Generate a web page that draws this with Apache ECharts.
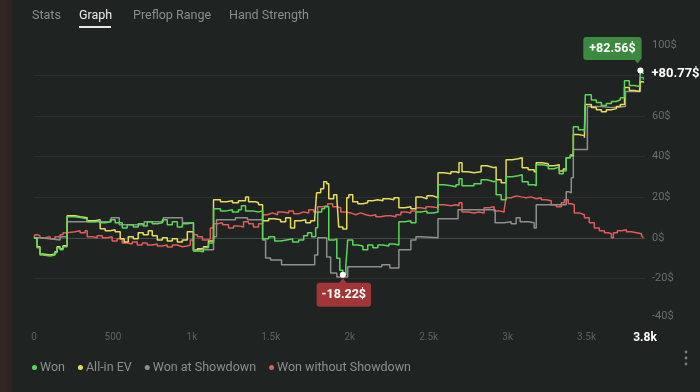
<!DOCTYPE html>
<html><head><meta charset="utf-8">
<script src="https://cdn.jsdelivr.net/npm/echarts@6/dist/echarts.min.js"></script>
<style>html,body{margin:0;padding:0;background:#1f2321;}#c{width:700px;height:392px;}</style>
</head><body><div id="c"></div>
<script>
const tabs = ['Stats', 'Graph', 'Preflop Range', 'Hand Strength'];
const seriesNames = ['Won', 'All-in EV', 'Won at Showdown', 'Won without Showdown'];
const xMax = 3870;
const yTicks = [-40, -20, 0, 20, 40, 60, 80, 100];

const wonPoints = [[0,0],[19,-4.9],[38,-8.4],[57,-8.9],[102,-8.4],[133,-7.4],[146,-4.9],[165,-5.9],[184,-4.4],[210,10.4],[260,10.0],[292,9.4],[337,7.9],[387,8.4],[419,7.4],[451,7.9],[483,8.9],[514,7.4],[559,4.9],[590,6.4],[629,5.4],[660,6.9],[692,5.9],[717,7.9],[749,6.9],[781,7.4],[813,8.9],[844,6.4],[876,7.9],[908,5.4],[940,6.9],[971,7.4],[1010,-6.4],[1035,-6.9],[1073,-4.9],[1105,-2.5],[1137,14.3],[1181,13.3],[1219,13.8],[1257,12.8],[1295,13.8],[1314,15.8],[1340,13.3],[1384,12.8],[1422,13.3],[1448,-0.5],[1486,0.5],[1524,-1.5],[1562,-1],[1600,-0.5],[1638,-2],[1676,-1],[1708,1],[1733,2.5],[1759,0.5],[1784,5],[1797,12.8],[1822,14.3],[1841,15.3],[1867,-1],[1905,-0.5],[1918,-10],[1937,-16],[1956,-18.22],[1975,-14],[1987,-1],[2019,-3.5],[2051,-4],[2083,-5.9],[2114,-3.5],[2146,-4.9],[2178,-3.5],[2210,-4],[2248,-3],[2280,-3.5],[2311,7.9],[2349,8.4],[2387,7.4],[2419,12.8],[2451,13.3],[2489,12.3],[2527,12.8],[2559,26.2],[2597,25.7],[2641,25.2],[2673,26.2],[2692,29.1],[2711,25.7],[2749,25.7],[2787,26.7],[2832,28.6],[2870,27.7],[2914,28.1],[2927,21.2],[2959,18.8],[2990,30.1],[3028,30.6],[3067,31.1],[3092,27.7],[3130,26.2],[3168,25.7],[3181,36.0],[3219,35.5],[3257,34.1],[3295,35],[3327,31.6],[3352,33],[3371,39.5],[3397,41],[3416,54.8],[3448,53.3],[3486,52.3],[3492,70.6],[3530,68],[3562,66.7],[3594,65.2],[3625,66.2],[3657,67.2],[3689,68.1],[3714,69.1],[3740,77.5],[3771,75.1],[3803,74.6],[3835,74.1],[3841,82.56],[3854,81.5],[3860,80.77]];

const allInEvPoints = [[0,0],[19,-4.4],[38,-7.9],[57,-8.4],[102,-7.9],[133,-6.9],[146,-4.4],[165,-5.4],[184,-3.9],[210,10.9],[260,10.4],[292,9.9],[337,8.4],[387,8.9],[419,4.5],[451,3.5],[483,4.0],[514,3.0],[546,-0.5],[571,-2],[597,0.5],[629,-0.5],[660,2.5],[692,1.5],[724,3.5],[749,1.0],[781,-1],[813,0],[844,-1.5],[876,-0.5],[908,-2],[940,-1],[971,3.0],[1010,-6.4],[1035,-5.4],[1073,-4.4],[1105,-1.5],[1137,18.8],[1181,17.8],[1219,18.3],[1257,17.3],[1295,18.3],[1340,20.2],[1359,17.8],[1403,17.3],[1422,16.3],[1448,8.4],[1486,9.4],[1524,8.9],[1562,7.9],[1594,9.9],[1625,4.9],[1651,8.4],[1689,8.9],[1721,7.4],[1752,8.4],[1778,9.4],[1790,22.2],[1816,24.2],[1835,27.7],[1854,26.7],[1867,19.3],[1898,21.2],[1918,19.8],[1930,5.4],[1956,4.4],[1981,19.8],[1994,21.2],[2019,17.8],[2051,16.8],[2083,17.3],[2114,18.3],[2146,18.8],[2178,18.3],[2210,19.3],[2248,18.8],[2280,19.8],[2311,14.8],[2349,15.3],[2387,14.3],[2419,20.2],[2451,19.3],[2489,20.7],[2527,19.8],[2559,32.1],[2597,31.6],[2641,32.6],[2673,32.1],[2692,37],[2711,32.6],[2749,32.1],[2787,32.6],[2832,35.5],[2870,34.6],[2914,35],[2927,28.6],[2959,27.2],[2990,38.5],[3028,39.0],[3067,39.5],[3092,34.6],[3130,33.6],[3168,32.6],[3181,37],[3219,36.5],[3257,35.5],[3295,36],[3327,33],[3352,34],[3371,39.5],[3397,40.5],[3416,50.9],[3448,50.4],[3486,49.4],[3492,65.7],[3530,64.2],[3562,63.2],[3594,62.2],[3625,63.2],[3657,63.7],[3689,64.7],[3714,65.7],[3740,74.1],[3771,72.6],[3803,72.1],[3835,71.6],[3841,77.0],[3860,76.5]];

const showdownPoints = [[0,0],[38,-0.5],[102,-1],[165,0.5],[210,7.9],[489,9.9],[540,6.4],[698,7.9],[819,9.9],[940,7.4],[1010,-5.9],[1137,0.5],[1156,8.9],[1276,9.9],[1352,8.9],[1448,-1],[1467,-9.9],[1498,-10.9],[1568,-13.3],[1778,-8.4],[1797,0],[1854,-9.4],[1879,-17.3],[1918,-19.3],[1987,-14.3],[2203,-13.3],[2254,-14.8],[2311,-5.9],[2387,-1],[2419,0.5],[2451,0],[2559,9.4],[2686,13.8],[2921,7.4],[2978,7.9],[3022,6.9],[3054,9.9],[3079,7.9],[3130,7.4],[3168,4.9],[3181,16.3],[3371,22.7],[3390,22.2],[3403,29.6],[3416,43.5],[3505,64.7],[3594,64.2],[3657,64.7],[3746,72.1],[3841,79],[3860,78]];

const noShowdownPoints = [[0,0],[6,1.5],[25,1.0],[38,0],[70,0.5],[102,-0.5],[133,0.5],[165,1.5],[184,2.5],[210,3.0],[260,3.5],[292,2.5],[324,3.5],[337,0.5],[368,0],[400,1],[432,0],[463,0.5],[495,-1.5],[527,-0.5],[559,-2.5],[590,-3],[622,-2],[654,-3.5],[686,-2.5],[717,-3.5],[749,-3],[781,-4],[813,-3.5],[844,-4.5],[876,-3.5],[908,-4.4],[940,-4],[971,-3.5],[990,-1],[1010,1.5],[1035,0.5],[1067,-1],[1098,-0.5],[1117,4.9],[1137,6.9],[1162,7.4],[1194,6.4],[1232,4.9],[1264,5.9],[1295,5.4],[1327,7.9],[1359,6.9],[1390,5.4],[1422,6.9],[1448,11.4],[1479,12.3],[1511,11.4],[1543,12.8],[1575,12.3],[1613,13.3],[1644,11.9],[1676,12.8],[1708,12.3],[1740,13.8],[1771,12.8],[1797,15.3],[1829,15.8],[1860,16.8],[1892,15.3],[1918,14.8],[1943,12.8],[1975,12.3],[2006,11.4],[2038,12.3],[2070,11.4],[2102,10.9],[2133,11.4],[2165,10.4],[2197,10.9],[2229,10.9],[2260,10.4],[2292,11.4],[2324,12.8],[2356,12.3],[2387,13.3],[2419,14.8],[2451,14.3],[2483,15.3],[2514,14.8],[2559,16.3],[2597,15.8],[2641,16.3],[2673,15.8],[2692,17.3],[2711,12.8],[2749,12.3],[2787,12.8],[2819,12.3],[2851,14.8],[2883,15.3],[2914,13.3],[2946,12.8],[2978,13.8],[2990,19.8],[3022,20.7],[3054,20.2],[3086,19.8],[3117,20.2],[3149,19.3],[3181,19.8],[3213,18.8],[3244,18.3],[3276,16.3],[3308,15.3],[3340,17.3],[3359,18.8],[3384,16.8],[3403,16.3],[3422,12.3],[3454,11.4],[3486,9.9],[3517,7.4],[3549,4.9],[3581,3.5],[3613,2.5],[3638,2.0],[3657,0],[3670,2.5],[3695,3.5],[3721,4.0],[3752,3.0],[3784,2.5],[3816,2.0],[3848,1.0],[3860,0]];

const colors = { won: '#5cd65a', ev: '#e6dd5c', sd: '#8e8f8e', nsd: '#e25b5b' };
const font = 'Roboto, "Open Sans", sans-serif';

const chart = echarts.init(document.getElementById('c'), null, { renderer: 'canvas' });

const tabX = [32, 79, 133, 229];
const graphics = [
  { type: 'rect', shape: { x: 0, y: 0, width: 12, height: 392 },
    style: { fill: new echarts.graphic.LinearGradient(0, 0, 1, 0, [{ offset: 0, color: '#342825' }, { offset: 1, color: '#2a2321' }]) } },
  { type: 'rect', shape: { x: 79, y: 26, width: 32, height: 2 }, style: { fill: '#e6e6e6' } }
];
tabs.forEach((t, i) => {
  graphics.push({ type: 'text', x: tabX[i], y: 16,
    style: { text: t, fill: i === 1 ? '#ececec' : '#8b8e8c', font: '12.5px ' + font, textVerticalAlign: 'middle' } });
});
[352, 358, 364].forEach(cy => graphics.push({ type: 'circle', shape: { cx: 686, cy: cy, r: 1.4 }, style: { fill: '#7a7d7b' } }));

function lineSeries(name, data, color, extra) {
  return Object.assign({
    name, type: 'line', data, step: 'end', showSymbol: false, symbol: 'none',
    lineStyle: { width: 1.5, color }, itemStyle: { color }, animation: false
  }, extra || {});
}

const option = {
  backgroundColor: '#1f2321',
  animation: false,
  graphic: graphics,
  grid: { left: 34, right: 55, top: 35, bottom: 73 },
  legend: {
    data: seriesNames, left: 32, top: 361, padding: 0, icon: 'circle', itemWidth: 5, itemHeight: 5, itemGap: 13,
    textStyle: { color: '#8c8f8d', fontSize: 12.5, fontFamily: font, padding: [0, 0, 0, -2] }
  },
  xAxis: {
    type: 'value', min: 0, max: xMax, interval: 500,
    axisLine: { show: false }, axisTick: { show: false }, splitLine: { show: false },
    axisLabel: {
      color: '#5e615f', fontSize: 10, fontFamily: font, margin: 13, showMaxLabel: true,
      formatter: v => {
        if (v === xMax) return '{b|' + (Math.floor(v / 100) / 10) + 'k}';
        if (v === 0) return '0';
        if (v < 1000) return String(v);
        return (v / 1000) + 'k';
      },
      rich: { b: { color: '#ffffff', fontWeight: 'bold', fontSize: 12, fontFamily: font } }
    }
  },
  yAxis: {
    type: 'value', position: 'right', min: yTicks[0], max: yTicks[yTicks.length - 1], interval: 20,
    axisLine: { show: false }, axisTick: { show: false },
    splitLine: { lineStyle: { width: 1, color: ['rgba(0,0,0,0)', '#2b2f2d', '#474b49', '#2b2f2d', '#2b2f2d', '#2b2f2d', '#2b2f2d', 'rgba(0,0,0,0)'] } },
    axisLabel: {
      color: '#6b6e6c', fontSize: 11, fontFamily: font, margin: 7,
      formatter: v => {
        if (v === 80) return '';
        if (v === 100) return '{t|' + v + '$}';
        if (v === -40) return '{m|' + v + '$}';
        return v + '$';
      },
      rich: {
        t: { color: '#6b6e6c', fontSize: 11, fontFamily: font, padding: [20, 0, 0, 0] },
        m: { color: '#6b6e6c', fontSize: 11, fontFamily: font, padding: [0, 0, 6, 0] }
      }
    }
  },
  series: [
    lineSeries(seriesNames[3], noShowdownPoints, colors.nsd),
    lineSeries(seriesNames[2], showdownPoints, colors.sd),
    lineSeries(seriesNames[1], allInEvPoints, colors.ev),
    lineSeries(seriesNames[0], wonPoints, colors.won, {
      endLabel: {
        show: true, distance: 8, color: '#ffffff', fontWeight: 'bold', fontSize: 13, fontFamily: font,
        formatter: p => '+' + p.value[1].toFixed(2) + '$'
      },
      markPoint: {
        animation: false,
        data: [
          { type: 'max', symbol: 'triangle', symbolSize: [9, 6], symbolRotate: 180, symbolOffset: [-3, -10],
            itemStyle: { color: '#3b8a3f' }, label: { show: false } },
          { type: 'max', symbol: 'circle', symbolSize: 6, itemStyle: { color: '#ffffff' },
            label: { show: true, position: 'inside', offset: [-28, -22],
              formatter: p => '+' + p.value.toFixed(2) + '$',
              backgroundColor: '#3b8a3f', borderRadius: 3, padding: [5, 6, 5, 6],
              color: '#ffffff', fontWeight: 'bold', fontSize: 12.5, fontFamily: font } },
          { type: 'min', symbol: 'triangle', symbolSize: [8, 5], symbolOffset: [0, 6],
            itemStyle: { color: '#a23636' }, label: { show: false } },
          { type: 'min', symbol: 'circle', symbolSize: 6, itemStyle: { color: '#ffffff' },
            label: { show: true, position: 'inside', offset: [1, 20],
              formatter: p => p.value.toFixed(2) + '$',
              backgroundColor: '#a23636', borderRadius: 3, padding: [6, 5, 5, 5],
              color: '#ffffff', fontWeight: 'bold', fontSize: 12.5, fontFamily: font } }
        ]
      }
    })
  ]
};
chart.setOption(option);
</script>
</body></html>
